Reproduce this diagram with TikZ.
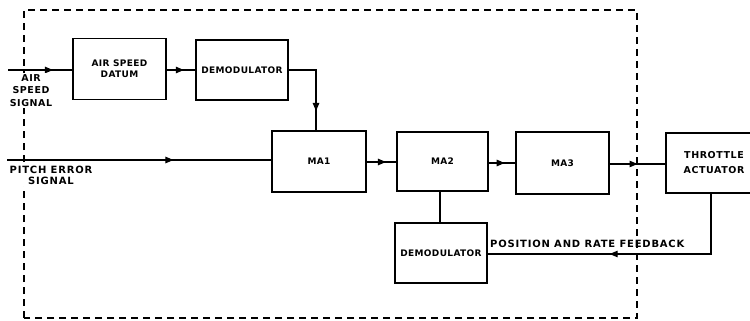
\documentclass[tikz,border=0pt]{standalone}
\usepackage{fontspec}
\setmainfont{DejaVu Sans}
\usetikzlibrary{decorations.markings,arrows.meta}
\begin{document}
\begin{tikzpicture}[x=1pt,y=-1pt,
  lbl/.style={font=\fontsize{9}{11}\selectfont\bfseries\addfontfeatures{LetterSpace=4},align=center,inner sep=0pt},
  olbl/.style={font=\fontsize{10}{12}\selectfont\bfseries\addfontfeatures{LetterSpace=8},align=center,inner sep=1pt},
  blk/.style={draw,line width=1.6pt,lbl},
  wire/.style={line width=1.1pt},
  midarr/.style={postaction={decorate},decoration={markings,mark=at position #1 with {\arrow{Triangle[length=8pt,width=6.5pt]}}}},
  border/.style={line width=1.1pt,dash pattern=on 7pt off 5pt}]
\useasboundingbox (0,0) rectangle (750,321);
% blocks
\node[blk,minimum width=93pt,minimum height=61pt] (asd) at (119.5,69) {AIR SPEED\\DATUM};
\node[blk,minimum width=92pt,minimum height=60pt] (dm1) at (242,70) {DEMODULATOR};
\node[blk,minimum width=94pt,minimum height=61pt] (ma1) at (319,161.5) {MA1};
\node[blk,minimum width=91pt,minimum height=59pt] (ma2) at (442.5,161.5) {MA2};
\node[blk,minimum width=93pt,minimum height=62pt] (ma3) at (562.5,163) {MA3};
\node[blk,minimum width=96pt,minimum height=60pt,font=\fontsize{9.5}{15}\selectfont\bfseries\addfontfeatures{LetterSpace=6}] (thr) at (714,163) {THROTTLE\\ACTUATOR};
\node[blk,minimum width=92pt,minimum height=60pt] (dm2) at (441,253) {DEMODULATOR};
% dashed border
\draw[border] (24,318) -- (24,10) -- (637,10) -- (637,318) -- cycle;
% inputs
\coordinate (asin) at (8,70);
\coordinate (pein) at (7,160);
\draw[wire,midarr=0.7] (asin) -- (asin -| asd.west);
\node[olbl,fill=white,font=\fontsize{9.5}{12.5}\selectfont\bfseries\addfontfeatures{LetterSpace=6}] (asl) at (31,90.5) {AIR\\SPEED\\SIGNAL};
\draw[wire,midarr=0.63] (pein) -- (pein -| ma1.west);
\node[olbl,fill=white,font=\fontsize{10}{11.5}\selectfont\bfseries\addfontfeatures{LetterSpace=8}] (pel) at (51,175.5) {PITCH ERROR\\SIGNAL};
% chain
\draw[wire,midarr=0.6] (asd.east |- 0,70) -- (dm1.west |- 0,70);
\coordinate (c1) at (316,70);
\draw[wire,midarr=0.78] (dm1.east) -- (c1) -- (c1 |- ma1.north);
\draw[wire,midarr=0.65] (ma1.east |- 0,162) -- (ma2.west |- 0,162);
\draw[wire,midarr=0.6] (ma2.east |- 0,163) -- (ma3.west |- 0,163);
\draw[wire,midarr=0.5] (ma3.east |- 0,164) -- (thr.west |- 0,164);
\draw[wire] (ma2.south -| 440,0) -- (dm2.north -| 440,0);
\coordinate (fb) at (711,254);
\draw[wire,midarr=0.57] (thr.south -| fb) -- (fb) -- (fb -| dm2.east);
\node[olbl,anchor=south west,inner sep=0pt] (fbl) at (490,248) {POSITION AND RATE FEEDBACK};
\end{tikzpicture}
\end{document}
